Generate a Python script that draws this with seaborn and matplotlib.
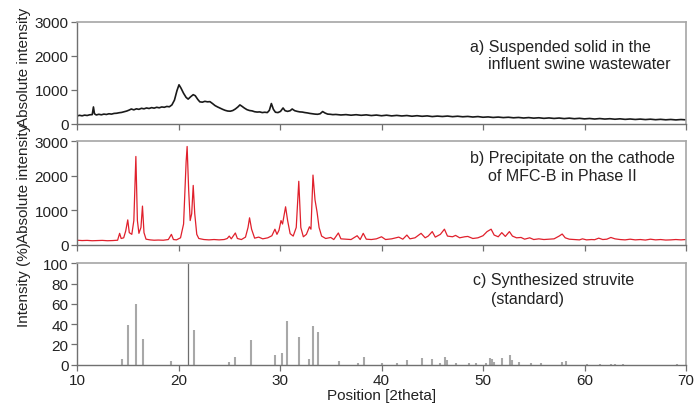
import matplotlib
matplotlib.use("Agg")
import matplotlib.pyplot as plt
import seaborn as sns
import pandas as pd

# ---- (a) suspended solid: 2theta positions and absolute intensity ----
top_x = [10.0, 10.25, 10.5, 10.75, 11.0, 11.25, 11.5, 11.62, 11.72, 11.9, 12.15, 12.4, 12.65, 12.9,
         13.15, 13.4, 13.65, 13.9, 14.15, 14.4, 14.65, 14.9, 15.15, 15.35, 15.6, 15.85, 16.1, 16.35,
         16.6, 16.85, 17.1, 17.35, 17.6, 17.85, 18.1, 18.35, 18.6, 18.85, 19.1, 19.35, 19.6, 19.85,
         20.05, 20.25, 20.5, 20.75, 20.95, 21.2, 21.45, 21.65, 21.9, 22.1, 22.35, 22.6, 22.85, 23.1,
         23.35, 23.6, 23.85, 24.1, 24.35, 24.6, 24.85, 25.1, 25.35, 25.6, 25.85, 26.05, 26.25, 26.5,
         26.75, 27.0, 27.25, 27.5, 27.75, 28.0, 28.25, 28.5, 28.75, 28.95, 29.15, 29.35, 29.55, 29.8,
         30.05, 30.3, 30.5, 30.75, 31.0, 31.2, 31.45, 31.7, 31.95, 32.2, 32.45, 32.7, 32.95, 33.2,
         33.45, 33.7, 33.95, 34.2, 34.45, 34.7, 34.95, 35.2, 35.5, 36.0, 36.5, 37.0, 37.5, 38.0,
         38.5, 39.0, 39.5, 40.0, 40.5, 41.0, 41.5, 42.0, 42.5, 43.0, 43.5, 44.0, 44.5, 45.0,
         45.5, 46.0, 46.5, 47.0, 47.5, 48.0, 48.5, 49.0, 49.5, 50.0, 50.5, 51.0, 51.5, 52.0,
         52.5, 53.0, 53.5, 54.0, 54.5, 55.0, 55.5, 56.0, 56.5, 57.0, 57.5, 58.0, 58.5, 59.0,
         59.5, 60.0, 60.5, 61.0, 61.5, 62.0, 62.5, 63.0, 63.5, 64.0, 64.5, 65.0, 65.5, 66.0,
         66.5, 67.0, 67.5, 68.0, 68.5, 69.0, 69.5, 70.0]
top_y = [235, 255, 240, 260, 250, 270, 275, 500, 300, 265, 285, 270, 290, 280,
         300, 290, 310, 315, 330, 340, 360, 380, 410, 440, 415, 445, 430, 460,
         445, 470, 455, 480, 465, 490, 475, 500, 490, 515, 505, 560, 700, 980,
         1150, 1050, 900, 780, 730, 800, 860, 830, 720, 650, 640, 665, 650, 655,
         600, 540, 500, 465, 430, 400, 380, 375, 395, 440, 500, 560, 520, 465,
         420, 395, 385, 360, 350, 355, 335, 345, 335, 400, 600, 430, 345, 335,
         370, 470, 390, 370, 390, 440, 390, 370, 355, 350, 335, 325, 310, 300,
         290, 285, 300, 365, 320, 290, 285, 275, 280, 265, 275, 258, 272, 255,
         268, 248, 262, 242, 258, 238, 252, 236, 248, 228, 243, 226, 238, 218,
         232, 220, 233, 215, 228, 212, 222, 205, 218, 198, 208, 192, 203, 188,
         198, 182, 192, 176, 188, 172, 183, 166, 178, 163, 175, 158, 172, 155,
         167, 150, 162, 146, 160, 145, 155, 140, 152, 136, 147, 133, 144, 130,
         141, 126, 137, 123, 133, 120, 131, 122]

# ---- (b) precipitate on cathode ----
mid_x = [10.0, 10.5, 11.0, 11.5, 12.0, 12.5, 13.0, 13.5, 14.0, 14.2, 14.35, 14.6, 14.8, 15.0,
         15.15, 15.4, 15.6, 15.8, 15.95, 16.1, 16.3, 16.45, 16.6, 16.8, 17.2, 17.6, 18.0, 18.5,
         19.0, 19.3, 19.5, 19.8, 20.2, 20.5, 20.75, 20.85, 21.0, 21.15, 21.3, 21.45, 21.6, 21.8,
         22.0, 22.5, 23.0, 23.5, 24.0, 24.5, 24.8, 25.0, 25.2, 25.6, 25.8, 26.2, 26.6, 26.85,
         27.0, 27.2, 27.5, 27.9, 28.3, 28.8, 29.2, 29.5, 29.7, 29.9, 30.1, 30.25, 30.55, 30.75,
         31.0, 31.3, 31.6, 31.85, 32.05, 32.3, 32.6, 32.9, 33.05, 33.25, 33.45, 33.65, 33.85, 34.1,
         34.5, 35.0, 35.3, 35.75, 36.0, 36.5, 37.0, 37.6, 37.9, 38.2, 38.5, 39.0, 39.5, 40.0,
         40.4, 41.0, 41.7, 42.1, 42.5, 42.8, 43.3, 43.9, 44.3, 44.6, 45.0, 45.3, 45.8, 46.2,
         46.5, 47.0, 47.3, 47.7, 48.2, 48.5, 49.0, 49.5, 50.0, 50.4, 50.8, 51.1, 51.5, 51.85,
         52.2, 52.6, 52.9, 53.3, 53.75, 54.1, 54.6, 55.0, 55.5, 56.0, 56.5, 57.0, 57.5, 57.8,
         58.1, 58.5, 59.0, 59.5, 59.8, 60.2, 60.7, 61.0, 61.4, 61.8, 62.2, 62.6, 63.0, 63.5,
         64.0, 64.5, 65.0, 65.5, 66.0, 66.5, 67.0, 67.5, 68.0, 68.5, 69.0, 69.5, 70.0]
mid_y = [130, 120, 125, 115, 120, 125, 115, 120, 130, 330, 180, 200, 400, 720,
         350, 300, 700, 2560, 700, 330, 500, 1120, 350, 160, 140, 130, 135, 130,
         150, 300, 150, 140, 200, 600, 2400, 2850, 1600, 700, 900, 1720, 900, 300,
         180, 150, 140, 150, 140, 150, 180, 250, 170, 340, 180, 150, 220, 500,
         780, 450, 190, 220, 170, 200, 260, 450, 300, 420, 700, 600, 1100, 700,
         320, 250, 500, 1840, 500, 230, 300, 520, 450, 2020, 1300, 950, 500, 250,
         180, 210, 150, 340, 170, 160, 150, 260, 150, 330, 160, 150, 170, 230,
         150, 170, 220, 160, 280, 170, 200, 330, 200, 250, 380, 220, 300, 450,
         250, 230, 270, 200, 230, 240, 180, 200, 260, 380, 450, 280, 230, 350,
         240, 380, 250, 200, 210, 160, 200, 150, 170, 150, 160, 170, 250, 310,
         200, 160, 150, 140, 170, 140, 150, 145, 190, 150, 160, 210, 170, 150,
         140, 160, 140, 150, 135, 160, 140, 150, 135, 140, 150, 140, 150]

# ---- (c) synthesized struvite standard: stick pattern ----
ref_pos = [14.4, 15.04, 15.8, 16.5, 19.3, 20.9, 21.5, 25.0, 25.6, 27.1, 29.55, 30.2, 30.65,
           31.85, 32.9, 33.3, 33.7, 35.8, 37.7, 38.3, 40.0, 41.5, 42.5, 44.0, 45.0, 45.8,
           46.3, 46.45, 47.3, 48.6, 49.3, 50.3, 50.7, 50.9, 51.1, 51.9, 52.7, 52.9, 53.5,
           54.75, 55.7, 57.8, 58.2, 60.2, 61.5, 62.6, 63.0, 63.8, 69.1]
ref_int = [5.6, 39, 60, 25, 4, 100, 34, 2.3, 8, 24, 9.5, 12, 43,
           27, 6, 38, 32, 4, 2, 8, 1.5, 1.3, 4.5, 7, 6, 2,
           8, 5, 1.3, 2, 1.3, 2, 7, 5.5, 3, 6.5, 9.5, 5, 3,
           1.6, 1.3, 2.3, 3.6, 1, 1, 1, 1, 1, 1]

x_ticks = [10, 20, 30, 40, 50, 60, 70]
abs_ticks = [0, 1000, 2000, 3000]
pct_ticks = [0, 20, 40, 60, 80, 100]

top_df = pd.DataFrame({"pos": top_x, "val": top_y})
mid_df = pd.DataFrame({"pos": mid_x, "val": mid_y})

sns.set_style("white")
plt.rcParams["font.family"] = ["Liberation Sans", "DejaVu Sans"]
plt.rcParams["font.size"] = 11

fig = plt.figure(figsize=(6.99, 4.10), dpi=100)
L, W = 77 / 699, 609 / 699
ax1 = fig.add_axes([L, 1 - 125 / 410, W, 102.3 / 410])
ax2 = fig.add_axes([L, 1 - 245.7 / 410, W, 103.4 / 410])
ax3 = fig.add_axes([L, 1 - 365.7 / 410, W, 101.4 / 410])

sns.lineplot(data=top_df, x="pos", y="val", ax=ax1, color="#1a1a1a", lw=1.2,
             estimator=None, sort=False)
sns.lineplot(data=mid_df, x="pos", y="val", ax=ax2, color="#e0202c", lw=0.9,
             estimator=None, sort=False)
for p, v in zip(ref_pos, ref_int):
    big = v >= 99
    ax3.vlines(p, 0, v, color="#6e6e6e" if big else "#a8a8a8",
               lw=0.9 if big else 1.5)

text_col = "#222222"
for ax in (ax1, ax2, ax3):
    ax.set_xlim(10, 70)
    ax.set_xticks(x_ticks)
    ax.set_xlabel("")
    for s in ("left", "bottom"):
        ax.spines[s].set_color("#707070")
        ax.spines[s].set_linewidth(1.0)
    for s in ("top", "right"):
        ax.spines[s].set_color("#a6a6a6")
        ax.spines[s].set_linewidth(1.2)
    ax.tick_params(axis="both", direction="out", length=4, width=0.9,
                   color="#707070", labelsize=11, labelcolor=text_col, pad=2,
                   left=True, bottom=True)

for ax in (ax1, ax2):
    ax.set_ylim(0, 3000)
    ax.set_yticks(abs_ticks)
    ax.set_xticklabels([])
    ax.set_ylabel("Absolute intensity", fontsize=11, color=text_col)

ax3.set_ylim(0, 100)
ax3.set_yticks(pct_ticks)
ax3.set_ylabel("Intensity (%)", fontsize=11, color=text_col)
ax3.set_xlabel("Position [2theta]", fontsize=11, color=text_col, labelpad=1)

ax1.yaxis.set_label_coords(-0.075, 0.56)
ax2.yaxis.set_label_coords(-0.075, 0.6)
ax3.yaxis.set_label_coords(-0.075, 0.8)

labels = [
    (ax1, 0.645, 0.76, "a) Suspended solid in the"),
    (ax1, 0.675, 0.595, "influent swine wastewater"),
    (ax2, 0.645, 0.845, "b) Precipitate on the cathode"),
    (ax2, 0.675, 0.668, "of MFC-B in Phase II"),
    (ax3, 0.65, 0.84, "c) Synthesized struvite"),
    (ax3, 0.68, 0.648, "(standard)"),
]
for ax, tx, ty, s in labels:
    ax.text(tx, ty, s, transform=ax.transAxes, fontsize=11.5, color=text_col,
            ha="left", va="center")

fig.savefig("out.png", dpi=100, facecolor="white")
